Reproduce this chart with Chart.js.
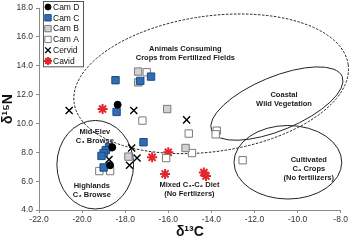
<!DOCTYPE html>
<html>
<head>
<meta charset="utf-8">
<script src="https://cdn.jsdelivr.net/npm/chart.js@4.4.0/dist/chart.umd.min.js"></script>
<style>
  html, body { margin: 0; padding: 0; background: #fff; }
</style>
</head>
<body>
<canvas id="chart" width="350" height="241"></canvas>
<script>
// [d13C, d15N] pairs
const camD = [[-18.35, 11.3], [-18.6, 8.35], [-18.7, 7.1]];
const camC = [[-18.45, 13.0], [-18.4, 10.8], [-16.8, 13.25], [-17.3, 12.95], [-17.15, 8.7],
              [-18.75, 8.35], [-18.9, 8.15], [-19.0, 7.95], [-19.1, 7.75], [-19.0, 6.95]];
const camB = [[-17.4, 13.6], [-17.4, 12.85], [-16.05, 11.0], [-17.85, 7.7], [-15.2, 8.3]];
const camA = [[-17.0, 13.55], [-17.2, 10.2], [-15.05, 9.3], [-13.75, 9.5], [-13.8, 9.25],
              [-14.9, 7.95], [-16.1, 7.6], [-19.2, 6.7], [-18.7, 6.7], [-12.55, 7.45]];
const cervid = [[-20.6, 10.9], [-17.6, 10.9], [-15.15, 10.25], [-17.7, 8.3], [-17.45, 7.6],
                [-17.8, 7.1], [-18.75, 7.5]];
const cavid = [[-19.05, 11.0], [-16.75, 7.65], [-16.0, 8.0], [-16.15, 6.5], [-14.35, 6.6], [-14.25, 6.35]];

const xTicks = [-22, -20, -18, -16, -14, -12, -10, -8];
const yTicks = [4, 6, 8, 10, 12, 14, 16, 18];

// outlined regions: centre and radii in axis units, tilt in degrees
const regions = [
  { cx: -19.39, cy: 7.14, rx: 1.78, ry: 3.07, tilt: 0, dashed: false },
  { cx: -14.01, cy: 12.75, rx: 6.42, ry: 4.7, tilt: -8, dashed: true },
  { cx: -10.96, cy: 11.38, rx: 3.28, ry: 1.86, tilt: -22.5, dashed: false },
  { cx: -10.45, cy: 7.31, rx: 2.5, ry: 2.55, tilt: 0, dashed: false }
];

const regionLabels = [
  { x: -15.21, y: 15.17, lines: ['Animals Consuming', 'Crops from Fertilized Fields'] },
  { x: -10.63, y: 12.0, lines: ['Coastal', 'Wild Vegetation'] },
  { x: -9.48, y: 7.45, lines: ['Cultivated', 'C\u2084 Crops', '(No fertilizers)'] },
  { x: -15.02, y: 5.72, lines: ['Mixed C\u2083-C\u2084 Diet', '(No Fertlizers)'] },
  { x: -19.41, y: 9.38, lines: ['Mid-Elev', 'C\u2083 Browse'] },
  { x: -19.55, y: 5.66, lines: ['Highlands', 'C\u2083 Browse'] }
];

const toPts = arr => arr.map(p => ({ x: p[0], y: p[1] }));
const FONT = "'Liberation Sans', Arial, sans-serif";

const regionPlugin = {
  id: 'regions',
  beforeDatasetsDraw(chart) {
    const { ctx, scales: { x, y } } = chart;
    ctx.save();
    ctx.strokeStyle = '#222';
    ctx.lineWidth = 1;
    regions.forEach(r => {
      const px = x.getPixelForValue(r.cx);
      const py = y.getPixelForValue(r.cy);
      const rxp = Math.abs(x.getPixelForValue(r.cx + r.rx) - px);
      const ryp = Math.abs(y.getPixelForValue(r.cy + r.ry) - py);
      ctx.setLineDash(r.dashed ? [2.5, 1.5] : []);
      ctx.beginPath();
      ctx.ellipse(px, py, rxp, ryp, r.tilt * Math.PI / 180, 0, Math.PI * 2);
      ctx.stroke();
    });
    ctx.restore();
  },
  afterDatasetsDraw(chart) {
    const { ctx, scales: { x, y } } = chart;
    ctx.save();
    ctx.fillStyle = '#1a1a1a';
    ctx.font = 'bold 7.5px ' + FONT;
    ctx.textAlign = 'center';
    ctx.textBaseline = 'middle';
    regionLabels.forEach(l => {
      const px = x.getPixelForValue(l.x);
      const py = y.getPixelForValue(l.y);
      l.lines.forEach((t, i) => ctx.fillText(t, px, py + i * 9));
    });
    ctx.restore();
  },
  afterDraw(chart) {
    // boxed legend in the upper left of the plot
    const { ctx, chartArea } = chart;
    const left = chartArea.left + 4, top = 1, w = 40, rowH = 10.8;
    const n = chart.data.datasets.length;
    ctx.save();
    ctx.fillStyle = '#fff';
    ctx.strokeStyle = '#555';
    ctx.lineWidth = 1;
    ctx.fillRect(left, top, w, n * rowH + 0.5);
    ctx.strokeRect(left + 0.5, top + 0.5, w, n * rowH + 0.5);
    ctx.font = '8.5px ' + FONT;
    ctx.textBaseline = 'middle';
    chart.data.datasets.forEach((ds, i) => {
      const cy = top + 6 + i * rowH;
      // drawPoint uses whatever fill/stroke is on the context
      ctx.fillStyle = ds.backgroundColor;
      ctx.strokeStyle = ds.borderColor;
      ctx.lineWidth = ds.borderWidth;
      Chart.helpers.drawPoint(ctx, { pointStyle: ds.pointStyle, radius: ds.legendRadius, borderWidth: ds.borderWidth }, left + 5, cy);
      ctx.fillStyle = '#111';
      ctx.fillText(ds.label, left + 10, cy + 0.5);
    });
    ctx.restore();
  }
};

const datasets = [
  { label: 'Cam D', data: toPts(camD), pointStyle: 'circle', pointRadius: 3.5, legendRadius: 3,
    backgroundColor: '#000', borderColor: '#000', borderWidth: 1 },
  { label: 'Cam C', data: toPts(camC), pointStyle: 'rect', pointRadius: 5.2, legendRadius: 4.5,
    backgroundColor: '#2f6eb5', borderColor: '#1d4a80', borderWidth: 1 },
  { label: 'Cam B', data: toPts(camB), pointStyle: 'rect', pointRadius: 5.2, legendRadius: 4.5,
    backgroundColor: '#d2d2d2', borderColor: '#7a7a7a', borderWidth: 1 },
  { label: 'Cam A', data: toPts(camA), pointStyle: 'rect', pointRadius: 5.2, legendRadius: 4.5,
    backgroundColor: '#fff', borderColor: '#7a7a7a', borderWidth: 1 },
  { label: 'Cervid', data: toPts(cervid), pointStyle: 'crossRot', pointRadius: 5, legendRadius: 4,
    backgroundColor: '#000', borderColor: '#000', borderWidth: 1.4 },
  { label: 'Cavid', data: toPts(cavid), pointStyle: 'star', pointRadius: 5, legendRadius: 4,
    backgroundColor: '#e3262d', borderColor: '#e3262d', borderWidth: 2 }
];

const tickFont = { family: FONT, size: 8.5 };

new Chart(document.getElementById('chart'), {
  type: 'scatter',
  data: { datasets },
  options: {
    responsive: false,
    animation: false,
    devicePixelRatio: 1,
    layout: { padding: { top: 7, right: 8, left: 0, bottom: 0 } },
    plugins: { legend: { display: false }, tooltip: { enabled: false } },
    scales: {
      x: {
        type: 'linear', min: xTicks[0], max: xTicks[xTicks.length - 1],
        afterBuildTicks: s => { s.ticks = xTicks.map(v => ({ value: v })); },
        afterFit: s => { s.height = 31; },
        ticks: { font: tickFont, color: '#333', padding: 2, maxRotation: 0,
                 callback: v => v.toFixed(1) },
        grid: { drawOnChartArea: false, tickLength: 3, color: '#8c8c8c' },
        border: { color: '#8c8c8c' },
        title: { display: true, text: '\u03b4\u00b9\u00b3C', color: '#111', padding: 0,
                 font: { family: FONT, size: 14, weight: 'bold' } }
      },
      y: {
        type: 'linear', min: yTicks[0], max: yTicks[yTicks.length - 1],
        afterBuildTicks: s => { s.ticks = yTicks.map(v => ({ value: v })); },
        afterFit: s => { s.width = 39; },
        ticks: { font: tickFont, color: '#333', padding: 3,
                 callback: v => v.toFixed(1) },
        grid: { drawOnChartArea: false, tickLength: 3, color: '#8c8c8c' },
        border: { color: '#8c8c8c' },
        title: { display: true, text: '\u03b4\u00b9\u2075N', color: '#111', padding: 0,
                 font: { family: FONT, size: 14, weight: 'bold' } }
      }
    }
  },
  plugins: [regionPlugin]
});
</script>
</body>
</html>
